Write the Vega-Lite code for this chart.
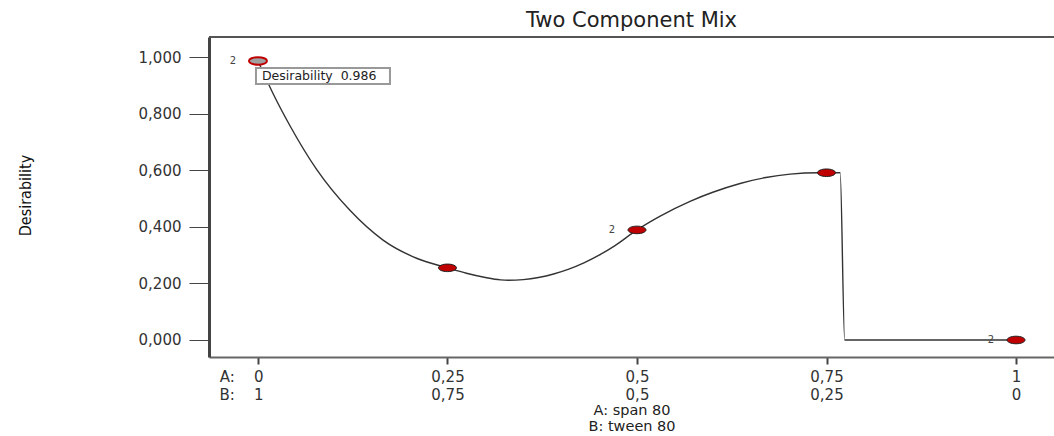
{
  "$schema": "https://vega.github.io/schema/vega-lite/v6.json",
  "autosize": "none",
  "width": 845,
  "height": 320,
  "padding": {"left": 209, "top": 37, "right": 0, "bottom": 79},
  "background": "white",
  "config": {"view": {"stroke": null}},
  "title": {
    "text": "Two Component Mix",
    "font": "DejaVu Sans",
    "fontSize": 21,
    "fontWeight": "normal",
    "color": "#222",
    "anchor": "middle",
    "frame": "group",
    "offset": 5
  },
  "datasets": {
    "pts": [
      {"A": 0, "D": 0.986, "n": 2},
      {"A": 0.25, "D": 0.255},
      {"A": 0.5, "D": 0.389, "n": 2},
      {"A": 0.75, "D": 0.591},
      {"A": 1, "D": 0.0, "n": 2}
    ],
    "curve": [
      {"A": 0, "D": 0.986},
      {"A": 0.02, "D": 0.87},
      {"A": 0.0422, "D": 0.757},
      {"A": 0.0778, "D": 0.601},
      {"A": 0.121, "D": 0.459},
      {"A": 0.165, "D": 0.353},
      {"A": 0.21, "D": 0.288},
      {"A": 0.25, "D": 0.255},
      {"A": 0.275, "D": 0.236},
      {"A": 0.3, "D": 0.221},
      {"A": 0.32, "D": 0.2125},
      {"A": 0.33, "D": 0.211},
      {"A": 0.35, "D": 0.2135},
      {"A": 0.37, "D": 0.2209},
      {"A": 0.39, "D": 0.2332},
      {"A": 0.41, "D": 0.2504},
      {"A": 0.43, "D": 0.2726},
      {"A": 0.45, "D": 0.2997},
      {"A": 0.47, "D": 0.3317},
      {"A": 0.5, "D": 0.389},
      {"A": 0.515, "D": 0.414},
      {"A": 0.53, "D": 0.437},
      {"A": 0.57, "D": 0.49},
      {"A": 0.6, "D": 0.522},
      {"A": 0.636, "D": 0.553},
      {"A": 0.67, "D": 0.574},
      {"A": 0.702, "D": 0.586},
      {"A": 0.74, "D": 0.591},
      {"A": 0.768, "D": 0.591},
      {"A": 0.774, "D": 0.0},
      {"A": 1, "D": 0.0}
    ],
    "tip": [{"A": 0, "D": 0.986, "label": "Desirability\u00a0\u00a00.986"}],
    "frame": [{"A": -0.0646, "A2": 1.0501, "D": 1.0707}]
  },
  "encoding": {
    "x": {
      "field": "A",
      "type": "quantitative",
      "scale": {"domain": [-0.0646, 1.0501], "nice": false, "zero": false},
      "axis": {
        "values": [0, 0.25, 0.5, 0.75, 1],
        "title": ["A: span 80", "B: tween 80"],
        "titleFont": "DejaVu Sans",
        "titleFontSize": 14.5,
        "titleFontWeight": "normal",
        "titleColor": "#222",
        "titleLineHeight": 16.5,
        "titlePadding": 1,
        "domainColor": "#666",
        "domainWidth": 2,
        "tickColor": "#444",
        "tickWidth": 2,
        "tickSize": 7,
        "grid": false,
        "labelFont": "DejaVu Sans",
        "labelFontSize": 15,
        "labelColor": "#333",
        "labelPadding": 5,
        "labelLineHeight": 18,
        "labelFlush": false,
        "labelOverlap": false,
        "labelAlign": {"condition": {"test": "datum.value == 0", "value": "right"}, "value": "center"},
        "labelOffset": {"condition": {"test": "datum.value == 0", "value": 5}, "value": 0},
        "labelExpr": "datum.value == 0 ? ['A:\u00a0\u00a0\u00a0\u00a00', 'B:\u00a0\u00a0\u00a0\u00a01'] : [replace('' + datum.value, '.', ','), replace('' + (1 - datum.value), '.', ',')]"
      }
    },
    "y": {
      "field": "D",
      "type": "quantitative",
      "scale": {"domain": [-0.0601, 1.0707], "nice": false, "zero": false},
      "axis": {
        "values": [0, 0.2, 0.4, 0.6, 0.8, 1],
        "title": "Desirability",
        "titleFont": "DejaVu Sans Condensed",
        "titleFontSize": 16,
        "titleFontWeight": "normal",
        "titleColor": "#111",
        "titleX": -184,
        "titleY": 158,
        "titleAngle": -90,
        "titleAlign": "center",
        "titleBaseline": "middle",
        "domainColor": "#444",
        "domainWidth": 3,
        "tickColor": "#444",
        "tickWidth": 1,
        "tickSize": 20,
        "grid": false,
        "labelFont": "DejaVu Sans",
        "labelFontSize": 15,
        "labelColor": "#333",
        "labelPadding": 8,
        "labelExpr": "replace(format(datum.value, '.3f'), '.', ',')"
      }
    }
  },
  "layer": [
    {
      "data": {"name": "frame"},
      "mark": {"type": "rule", "color": "#555", "strokeWidth": 2},
      "encoding": {"x2": {"field": "A2"}}
    },
    {
      "data": {"name": "curve"},
      "mark": {"type": "line", "interpolate": "monotone", "color": "#333", "strokeWidth": 1.4}
    },
    {
      "data": {"name": "pts"},
      "mark": {
        "type": "point",
        "filled": true,
        "shape": "M-1,0A1,0.42,0,1,0,1,0A1,0.42,0,1,0,-1,0Z",
        "size": 324,
        "opacity": 1
      },
      "encoding": {
        "fill": {"condition": {"test": "datum.A == 0", "value": "#a0a0a0"}, "value": "#c00000"},
        "stroke": {"condition": {"test": "datum.A == 0", "value": "#c00000"}, "value": "#222"},
        "strokeWidth": {"condition": {"test": "datum.A == 0", "value": 2}, "value": 1}
      }
    },
    {
      "data": {"name": "pts"},
      "transform": [{"filter": "isValid(datum.n)"}],
      "mark": {"type": "text", "dx": -25, "font": "DejaVu Sans", "fontSize": 10, "color": "#444", "baseline": "middle"},
      "encoding": {"text": {"field": "n"}}
    },
    {
      "data": {"name": "tip"},
      "mark": {
        "type": "rect",
        "width": 134,
        "height": 16,
        "xOffset": 65,
        "yOffset": 15,
        "fill": "white",
        "stroke": "#999",
        "strokeWidth": 2
      }
    },
    {
      "data": {"name": "tip"},
      "mark": {"type": "text", "align": "left", "baseline": "middle", "dx": 4, "dy": 15, "font": "DejaVu Sans", "fontSize": 12.5, "color": "#222"},
      "encoding": {"text": {"field": "label"}}
    }
  ]
}
